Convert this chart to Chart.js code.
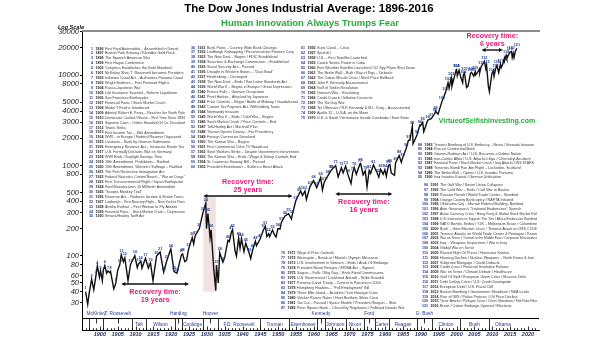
<!DOCTYPE html>
<html lang="en">
<head>
  <meta charset="UTF-8">
  <title>The Dow Jones Industrial Average: 1896-2016</title>
  <script src="https://cdn.jsdelivr.net/npm/chart.js"></script>
  <style>
    body {
      margin: 0;
      background: #fff;
    }

    #wrap {
      width: 605px;
      height: 341px;
      position: relative;
    }
  </style>
</head>
<body>
  <div id="wrap">
    <canvas id="chart"></canvas>
  </div>

  <script>
    // DJIA swing highs / lows (decimal years)
    const djYears = [
      1896.0, 1896.6, 1897.0, 1897.7, 1898.3, 1898.9, 1899.3, 1899.9, 1900.2, 1900.7,
      1901.0, 1901.4, 1901.9, 1902.3, 1902.8, 1903.0, 1903.9, 1904.5, 1905.0, 1905.6,
      1906.0, 1906.6, 1907.0, 1907.9, 1908.6, 1909.8, 1910.5, 1910.9, 1911.5, 1911.8,
      1912.8, 1913.6, 1914.2, 1914.9, 1915.9, 1916.9, 1917.9, 1918.8, 1919.9, 1920.8,
      1921.6, 1922.9, 1923.2, 1923.8, 1924.3, 1924.9, 1925.9, 1926.3, 1926.7, 1927.9,
      1928.9, 1929.7, 1929.9, 1930.3, 1930.9, 1931.2, 1931.9, 1932.5, 1932.7, 1933.2,
      1933.6, 1934.5, 1935.0, 1935.9, 1936.3, 1936.9, 1937.2, 1937.9, 1938.3, 1938.9,
      1939.3, 1939.7, 1940.4, 1940.9, 1941.9, 1942.3, 1942.9, 1943.6, 1943.9, 1944.9,
      1945.9, 1946.4, 1946.8, 1947.3, 1947.6, 1948.4, 1948.9, 1949.4, 1949.9, 1950.5,
      1950.9, 1951.9, 1952.9, 1953.7, 1953.9, 1954.9, 1955.9, 1956.3, 1956.8, 1957.5,
      1957.9, 1958.9, 1959.9, 1960.8, 1961.9, 1962.4, 1962.9, 1963.9, 1964.9, 1966.1,
      1966.8, 1967.7, 1968.2, 1968.9, 1969.5, 1970.4, 1970.9, 1971.3, 1971.9, 1972.9,
      1973.1, 1973.8, 1974.4, 1974.9, 1975.5, 1975.9, 1976.7, 1977.9, 1978.2, 1978.7,
      1979.4, 1979.9, 1980.3, 1980.9, 1981.3, 1981.7, 1982.6, 1982.9, 1983.9, 1984.5,
      1984.9, 1985.9, 1986.5, 1986.9, 1987.6, 1987.8, 1988.9, 1989.7, 1989.9, 1990.5,
      1990.8, 1991.9, 1992.9, 1993.9, 1994.1, 1994.8, 1995.9, 1996.9, 1997.6, 1997.9,
      1998.5, 1998.7, 1999.9, 2000.0, 2000.2, 2000.7, 2001.2, 2001.7, 2001.9, 2002.2,
      2002.8, 2003.2, 2003.9, 2004.2, 2004.8, 2005.2, 2005.3, 2005.9, 2006.4, 2006.5,
      2006.9, 2007.8, 2008.2, 2008.4, 2008.9, 2009.2, 2009.9, 2010.3, 2010.5, 2010.9,
      2011.3, 2011.8, 2012.3, 2012.5, 2012.9, 2013.4, 2013.5, 2013.9, 2014.1, 2014.9,
      2015.4, 2015.6, 2015.9, 2016.1, 2016.5, 2016.9
    ];
    const djValues = [
      40, 29, 38, 55, 42, 60, 77, 58, 68, 53,
      70, 78, 64, 68, 65, 67, 43, 50, 69, 80,
      103, 86, 95, 53, 80, 100, 74, 82, 87, 73,
      94, 73, 83, 53, 99, 110, 66, 89, 119, 67,
      64, 103, 105, 86, 89, 120, 159, 135, 166, 200,
      300, 381, 199, 294, 158, 194, 74, 41, 79, 50,
      108, 85, 96, 148, 143, 184, 194, 113, 99, 158,
      121, 155, 111, 138, 106, 93, 119, 145, 129, 152,
      195, 212, 163, 175, 163, 193, 172, 161, 200, 197,
      235, 276, 292, 255, 280, 404, 488, 521, 466, 520,
      420, 583, 679, 566, 734, 536, 652, 767, 891, 995,
      744, 943, 825, 985, 801, 631, 842, 950, 798, 1036,
      1051, 788, 870, 578, 881, 818, 1014, 800, 742, 907,
      800, 897, 759, 1000, 1024, 824, 777, 1070, 1287, 1087,
      1212, 1553, 1900, 1896, 2722, 1739, 2169, 2791, 2753, 3000,
      2365, 3168, 3301, 3754, 3978, 3700, 5117, 6448, 8259, 7160,
      9338, 7539, 11497, 11723, 9796, 11310, 9389, 8236, 10021, 10600,
      7286, 7524, 10453, 10738, 9750, 10940, 10012, 10718, 11640, 10700,
      12463, 14164, 11740, 12870, 7552, 6547, 10428, 11205, 9686, 11578,
      12810, 10655, 13279, 12101, 13104, 15409, 14659, 16576, 15372, 17823,
      18312, 15666, 17425, 15660, 18500, 19762
    ];

    const yTicks = [30, 40, 50, 60, 80, 100, 200, 300, 400, 500, 800, 1000, 2000, 3000, 4000, 5000, 8000, 10000, 20000, 30000];
    const xTicks = [1900, 1905, 1910, 1915, 1920, 1925, 1930, 1935, 1940, 1945, 1950, 1955, 1960,
                    1965, 1970, 1975, 1980, 1985, 1990, 1995, 2000, 2005, 2010, 2015, 2020];

    const presidents = ['McKinley', 'T. Roosevelt', 'Taft', 'Wilson', 'Harding', 'Coolidge', 'Hoover',
                        'F.D. Roosevelt', 'Truman', 'Eisenhower', 'Kennedy', 'Johnson', 'Nixon', 'Ford',
                        'Carter', 'Reagan', 'G. Bush', 'Clinton', 'Bush', 'Obama'];
    const termStart = [1897, 1901, 1909, 1913, 1921, 1923, 1929, 1933, 1945, 1953, 1961, 1963, 1969,
                       1974, 1977, 1981, 1989, 1993, 2001, 2009];
    const termEnd = [1901, 1909, 1913, 1921, 1923, 1929, 1933, 1945, 1953, 1961, 1963, 1969, 1974,
                     1977, 1981, 1989, 1993, 2001, 2009, 2017];

    const recFrom = [1906, 1929, 1966, 2007];
    const recTo = [1925, 1954, 1982, 2013];
    const recLabel = ['19 years', '25 years', '16 years', '6 years'];

    // event n belongs to year 1895 + n
    const events = [
      'First Ford Automobile – Assembled in Detroit',
      'Boston Park Subway / Klondike Gold Rush',
      'The Spanish American War',
      'First Hague Conference',
      'Congress Establishes the Gold Standard',
      'McKinley Shot, T. Roosevelt becomes President',
      'Isthmian Canal Act – Authorizes Panama Canal',
      'Wright Brothers – First Powered Flights',
      'Russo-Japanese War',
      'Life Insurance Scandal – Reform Legislation',
      'San Francisco Earthquake',
      'Financial Panic / Stock Market Crash',
      'Model T Ford is Introduced',
      'Admiral Robert E. Peary – Reaches the North Pole',
      'Democratic Control / House – First Time Since 1894',
      'Supreme Court – Orders Standard Oil Co. Dissolved',
      'Titanic Sinks',
      'First Income Tax – 16th Amendment',
      'WWI – in Europe / Federal Reserve Organized',
      'Lusitania – Sunk by German Submarine',
      'Emergency Revenue Act – Increases Estate Tax',
      'U.S. Formally Declares War on Germany',
      'WWI Ends / Daylight Savings Time',
      '18th Amendment, Prohibition – Ratified',
      '19th Amendment, Women\'s Suffrage – Ratified',
      'The First Restrictive Immigration Act',
      'Federal Narcotics Control Board – "War on Drugs"',
      'First Transcontinental Flight / Japan Earthquake',
      'Ford Manufactures 10 Millionth Automobile',
      '"Scopes Monkey Trial"',
      'Revenue Act – Reduces Income & Estate Taxes',
      'Lindbergh – First Nonstop Flight – New York to Paris',
      'Amelia Earhart – First Woman to Fly Atlantic',
      'Financial Panic – Stock Market Crash – Depression',
      'Smoot-Hawley Tariff Act',
      'Bank Panic – Country Wide Bank Closings',
      'Lindbergh Kidnapping / Reconstruction Finance Corp',
      'The New Deal – Begins / FDIC Established',
      'Securities & Exchange Commission – Established',
      'Social Security Act – Passed',
      'Drought in Western States – "Dust Bowl"',
      'Hindenburg – Destroyed',
      'The New Deal – Ends / Fair Labor Standards Act',
      'World War II – Begins in Europe / Great Depression',
      'France Falls – German Occupation',
      'Pearl Harbor – Attacked by Japanese',
      'Price Controls – Begin / Battle of Midway / Guadalcanal',
      'Current Tax Payment Act, Withholding Taxes',
      'Normandy Invasion',
      'World War II – Ends / Cold War – Begins',
      'Stock Market Crash / Price Controls – End',
      'Taft-Hartley Act / Marshall Plan',
      'Truman Upsets Dewey – For Presidency',
      'Foreign Currencies Devalued',
      'The Korean War – Begins',
      'First Commercial Color TV Broadcast',
      'Steel Workers Strike – Despite Government Intervention',
      'The Korean War – Ends / Wage & Salary Controls End',
      'St. Lawrence Seaway Bill – Passed',
      'President Eisenhower – Suffers a Heart Attack',
      'Suez Canal – Crisis',
      'Sputnik I',
      'U.S. – First Satellite Launched',
      'Castro Seizes Power in Cuba',
      'First Weather Satellite Launched / U2 Spy Plane Shot Down',
      'The Berlin Wall – Built / Bay of Pigs – Debacle',
      'The Cuban Missile Crisis / Steel Price Rollback',
      'John F. Kennedy Assassinated',
      'Gulf of Tonkin Resolution',
      'Vietnam War – Escalating',
      'Credit Crunch / Inflation Concerns',
      'The Six Day War',
      'Tet Offensive / R.F. Kennedy & M.L. King – Assassinated',
      'Apollo 11 – U.S.A. on the Moon',
      'U.S. & South Vietnamese Invade Cambodia / Kent State',
      'Wage & Price Controls',
      'Watergate – Break-in / Munich Olympic Massacre',
      'U.S. Involvement in Vietnam – Ends / Arab Oil Embargo',
      'President Nixon Resigns / ERISA Act – Signed',
      'Saigon – Falls / May Day – Ends Fixed Commissions',
      'U.S. Bicentennial / Lockheed Aircraft – Bribe Scandal',
      'Panama Canal Treaty – Control to Panama in 2000',
      'Humphrey Hawkins – "Full Employment" Bill',
      'Three Mile Island – Accident / Iran Hostage Crisis',
      'Volcker Raises Rates / Hunt Brothers Silver Crisis',
      'Tax Cut – Passed / Space Shuttle / President Reagan – Shot',
      'Penn Square Bank – Closed by Regulators / Falkland Islands War',
      'Terrorist Bombing of U.S. Embassy – Beirut / Grenada Invasion',
      'Run on Continental Bank',
      'Gramm-Rudman Act / U.S. Becomes a Debtor Nation',
      'Iran-Contra Affair / U.S. Attacks Libya / Chernobyl Accident',
      'Financial Panic / Stock Market Crash / Iraq Attacks USS STARK',
      'Terrorists Bomb Pan Am Flight – Lockerbie, Scotland',
      'The Berlin Wall – Opens / U.S. Invades Panama',
      'Iraq Invades Kuwait / German Unification',
      'The Gulf War / Soviet Union Collapses',
      'The Cold War – Ends / Civil War in Bosnia',
      'Russian Revolt / World Trade Center – Bombed',
      'Orange County Bankruptcy / NAFTA Initiated',
      'Oklahoma City – Murrah Federal Building, Bombed',
      'Alan Greenspan\'s "Irrational Exuberance" Speech',
      'Asian Currency Crisis / Hong Kong & Global Stock Market Fall',
      'U.S. Intervenes to Support The Yen / Africa Embassies Bombed',
      'NATO Bombs Serbia / Y2K – Millennium Scare / Columbine',
      'Bush – Gore Election Crisis / Terrorist Attack on USS COLE',
      'Terrorist Attacks on World Trade Center & Pentagon / Enron',
      'War on Terror / Turmoil in the Middle East / Corporate Misconduct',
      'Iraq – Weapons Inspections / War in Iraq',
      'Global War on Terror',
      'Record High Oil Prices / Hurricane Katrina',
      'Housing Decline / Nuclear Weapons – North Korea & Iran',
      'Subprime Mortgage / Credit Debacle',
      'Credit Crisis / Financial Institution Failures',
      'War on Terror / Climate Debate / Healthcare',
      'Gulf Oil Spill / European Union Crisis / Massive Debt',
      'Debt Ceiling Crisis / U.S. Credit Downgrade',
      'European Debt / U.S. Fiscal Cliff',
      'Boston Bombing / Government Shutdown / NSA Leaks',
      'Rise of ISIS / Police Protests / Oil Price Decline',
      'Terror Attacks / Refugee Crisis / China Slowdown / Fed Rate Hike',
      'Brexit / Cuban Embargo Opened / Elections'
    ];

    const FONT = 'Arial, "Liberation Sans", sans-serif';
    const NAVY = '#1f3a93';
    const PINK = '#e8177d';
    const GREEN = '#26ab3b';
    Chart.defaults.font.family = FONT;

    // event list columns: first/last event number, right edge of number, first baseline, line step, max text width
    const listBlocks = [
      { from: 1, to: 35, x: 93, y: 48.5, dy: 4.94, w: 80 },
      { from: 36, to: 60, x: 195, y: 47.5, dy: 4.96, w: 95 },
      { from: 61, to: 75, x: 305, y: 47.5, dy: 5.0, w: 140 },
      { from: 76, to: 87, x: 285, y: 252.5, dy: 5.0, w: 115 },
      { from: 88, to: 95, x: 422, y: 144.5, dy: 4.7, w: 100 },
      { from: 96, to: 121, x: 428, y: 185, dy: 4.85, w: 97 }
    ];
    // arrow height (in index points) and whether the caption sits below the arrow
    const recLayout = [
      { v: 48.6, below: true },
      { v: 459, below: false },
      { v: 483, below: true },
      { v: 18950, below: false }
    ];
    const aboveBand = new Set(['McKinley', 'T. Roosevelt', 'Harding', 'Hoover', 'Kennedy', 'Ford', 'G. Bush']);

    function arrow(ctx, x1, x2, y) {
      ctx.beginPath();
      ctx.moveTo(x1 + 2, y);
      ctx.lineTo(x2 - 2, y);
      ctx.stroke();
      ctx.beginPath();
      ctx.moveTo(x1, y); ctx.lineTo(x1 + 4, y - 2); ctx.lineTo(x1 + 4, y + 2); ctx.closePath();
      ctx.moveTo(x2, y); ctx.lineTo(x2 - 4, y - 2); ctx.lineTo(x2 - 4, y + 2); ctx.closePath();
      ctx.fill();
    }

    const decor = {
      id: 'decor',
      beforeDatasetsDraw(chart) {
        const ctx = chart.ctx;
        const xs = chart.scales.x, ys = chart.scales.y;
        ctx.save();
        // 1929-1932 crash shading
        ctx.fillStyle = 'rgba(214, 170, 170, 0.35)';
        const sx1 = xs.getPixelForValue(1929), sx2 = xs.getPixelForValue(1932.5);
        const sy1 = ys.getPixelForValue(450), sy2 = ys.getPixelForValue(40);
        ctx.fillRect(sx1, sy1, sx2 - sx1, sy2 - sy1);

        // event lists
        ctx.textBaseline = 'middle';
        listBlocks.forEach(b => {
          for (let n = b.from; n <= b.to; n++) {
            const y = b.y + (n - b.from) * b.dy;
            ctx.textAlign = 'right';
            ctx.fillStyle = NAVY;
            ctx.font = 'bold 3.6px ' + FONT;
            ctx.fillText(String(n), b.x, y);
            ctx.textAlign = 'left';
            ctx.fillStyle = '#222';
            ctx.fillText(String(1895 + n), b.x + 2.5, y);
            ctx.font = '3.7px ' + FONT;
            ctx.fillStyle = '#3a3a3a';
            ctx.fillText(events[n - 1], b.x + 12, y, b.w);
          }
        });
        ctx.restore();
      },
      afterDatasetsDraw(chart) {
        const ctx = chart.ctx;
        const xs = chart.scales.x, ys = chart.scales.y;
        ctx.save();

        // event numbers on the line
        ctx.font = 'bold 3.8px ' + FONT;
        ctx.fillStyle = NAVY;
        ctx.textAlign = 'center';
        ctx.textBaseline = 'bottom';
        for (let n = 1; n <= events.length; n++) {
          const yr = 1895 + n;
          let best = -1;
          djYears.forEach((x, i) => {
            if (Math.floor(x) === yr && (best < 0 || djValues[i] > djValues[best])) best = i;
          });
          if (best < 0) {
            let d = Infinity;
            djYears.forEach((x, i) => {
              const dd = Math.abs(x - (yr + 0.5));
              if (dd < d) { d = dd; best = i; }
            });
          }
          ctx.fillText(String(n), xs.getPixelForValue(djYears[best]), ys.getPixelForValue(djValues[best]) - 1.5);
        }

        // recovery arrows and captions
        ctx.strokeStyle = '#111';
        ctx.lineWidth = 1.4;
        recFrom.forEach((f, i) => {
          const x1 = xs.getPixelForValue(f), x2 = xs.getPixelForValue(recTo[i]);
          const y = ys.getPixelForValue(recLayout[i].v);
          ctx.fillStyle = '#111';
          arrow(ctx, x1, x2, y);
          const cx = (x1 + x2) / 2;
          ctx.fillStyle = PINK;
          ctx.font = 'bold 7.2px ' + FONT;
          ctx.textAlign = 'center';
          ctx.textBaseline = 'middle';
          const o = recLayout[i].below ? [8, 16] : [-14, -6];
          ctx.fillText('Recovery time:', cx, y + o[0]);
          ctx.fillText(recLabel[i], cx, y + o[1]);
        });
        ctx.restore();
      },
      afterDraw(chart) {
        const ctx = chart.ctx;
        const xs = chart.scales.x;
        const area = chart.chartArea;
        ctx.save();

        // titles
        ctx.textAlign = 'center';
        ctx.textBaseline = 'middle';
        ctx.fillStyle = '#000';
        ctx.font = 'bold 11.5px ' + FONT;
        ctx.fillText('The Dow Jones Industrial Average: 1896-2016', 309, 8.5);
        ctx.fillStyle = GREEN;
        ctx.font = 'bold 9.5px ' + FONT;
        ctx.fillText('Human Innovation Always Trumps Fear', 310, 23);
        ctx.fillStyle = '#111';
        ctx.font = 'italic bold 5.5px ' + FONT;
        ctx.textAlign = 'left';
        ctx.fillText('Log Scale', 58, 27);
        ctx.fillStyle = GREEN;
        ctx.font = 'bold 7px ' + FONT;
        ctx.textAlign = 'center';
        ctx.fillText('VirtueofSelfishInvesting.com', 487, 121);

        // grey frame line on top
        ctx.strokeStyle = '#8c8c8c';
        ctx.lineWidth = 2;
        ctx.beginPath();
        ctx.moveTo(area.left, area.top);
        ctx.lineTo(area.right + 1, area.top);
        ctx.stroke();

        // presidents band
        const bandTop = 318.5, bandBot = area.bottom;
        ctx.strokeStyle = '#000';
        ctx.lineWidth = 1;
        ctx.beginPath();
        ctx.moveTo(area.left, bandTop);
        ctx.lineTo(area.right, bandTop);
        ctx.stroke();
        ctx.font = '4.8px ' + FONT;
        ctx.fillStyle = NAVY;
        presidents.forEach((p, i) => {
          const x1 = xs.getPixelForValue(termStart[i]), x2 = xs.getPixelForValue(termEnd[i]);
          const cx = (x1 + x2) / 2;
          ctx.lineWidth = 0.8;
          ctx.beginPath();
          ctx.moveTo(Math.round(x1) + 0.5, bandTop);
          ctx.lineTo(Math.round(x1) + 0.5, bandBot);
          ctx.stroke();
          if (aboveBand.has(p)) {
            ctx.fillText(p, cx, 313.5);
            ctx.beginPath();
            ctx.moveTo(Math.round(cx) + 0.5, bandTop);
            ctx.lineTo(Math.round(cx) + 0.5, bandTop + 5);
            ctx.stroke();
          } else {
            ctx.fillText(p, cx, 324.5);
          }
        });
        // year ticks on the base line
        ctx.lineWidth = 0.8;
        for (let yr = 1896; yr <= 2022; yr++) {
          const x = Math.round(xs.getPixelForValue(yr)) + 0.5;
          const len = yr % 5 === 0 ? 3.5 : 1.8;
          ctx.beginPath();
          ctx.moveTo(x, bandBot);
          ctx.lineTo(x, bandBot - len);
          ctx.stroke();
        }
        ctx.restore();
      }
    };

    const ctx = document.getElementById('chart').getContext('2d');

    const chart = new Chart(ctx, {
      type: 'line',
      data: {
        datasets: [{
          label: 'DJIA',
          data: djYears.map((x, i) => ({ x: x, y: djValues[i] })),
          borderColor: '#111',
          borderWidth: 1.4,
          pointRadius: 0,
          tension: 0,
          fill: false
        }]
      },
      options: {
        responsive: true,
        maintainAspectRatio: false,
        animation: false,
        layout: {
          padding: { top: 31, right: 66, left: 0, bottom: 0 }
        },
        plugins: {
          legend: { display: false },
          tooltip: { enabled: false }
        },
        scales: {
          x: {
            type: 'linear',
            min: 1895,
            max: 2023.1,
            afterBuildTicks: s => { s.ticks = xTicks.map(v => ({ value: v })); },
            afterFit: s => { s.height = 11; },
            grid: { display: false, drawTicks: false },
            border: { display: true, color: '#000', width: 1 },
            ticks: {
              autoSkip: false,
              maxRotation: 0,
              padding: 1,
              color: '#1c2b5e',
              font: { size: 5.5, style: 'italic', weight: 'bold' },
              callback: v => String(v)
            }
          },
          y: {
            type: 'logarithmic',
            min: 15.07,
            max: 30770,
            afterBuildTicks: s => { s.ticks = yTicks.map(v => ({ value: v })); },
            afterFit: s => { s.width = 82; },
            grid: { display: true, drawOnChartArea: false, tickLength: 2, color: '#000' },
            border: { display: true, color: '#000', width: 1 },
            ticks: {
              autoSkip: false,
              padding: 1,
              color: '#222',
              font: { size: 7.5, style: 'italic' },
              callback: v => String(v)
            }
          }
        }
      },
      plugins: [decor]
    });
  </script>
</body>
</html>
